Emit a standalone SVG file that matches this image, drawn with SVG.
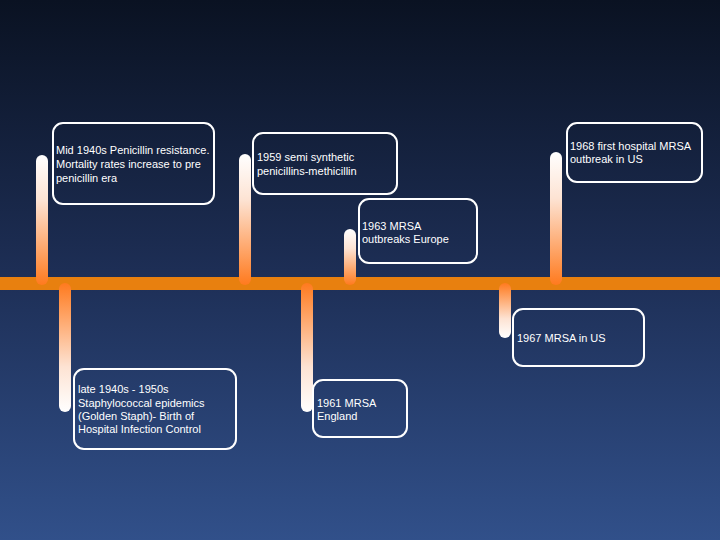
<svg xmlns="http://www.w3.org/2000/svg" width="720" height="540" viewBox="0 0 720 540">
<defs>
<linearGradient id="bg" x1="0" y1="0" x2="0" y2="1">
<stop offset="0" stop-color="#0a1222"/>
<stop offset="0.5" stop-color="#1d2e55"/>
<stop offset="1" stop-color="#31508a"/>
</linearGradient>
<linearGradient id="up" x1="0" y1="0" x2="0" y2="1">
<stop offset="0" stop-color="#ffffff"/>
<stop offset="0.35" stop-color="#fde3d3"/>
<stop offset="1" stop-color="#ff7a1e"/>
</linearGradient>
<linearGradient id="down" x1="0" y1="1" x2="0" y2="0">
<stop offset="0" stop-color="#ffffff"/>
<stop offset="0.35" stop-color="#fde3d3"/>
<stop offset="1" stop-color="#ff7a1e"/>
</linearGradient>
<style>
.box{fill:none;stroke:#ffffff;stroke-width:2}
.t{font-family:"Liberation Sans",Arial,sans-serif;font-size:11px;fill:#ffffff}
.bar{fill:#e8800f}
</style>
</defs>
<rect width="720" height="540" fill="url(#bg)"/>
<rect class="bar" x="0" y="277" width="720" height="13"/>
<g id="connectors">
<rect x="36" y="155" width="12" height="130" rx="6" fill="url(#up)"/>
<rect x="239" y="154" width="12" height="131" rx="6" fill="url(#up)"/>
<rect x="344" y="229" width="12" height="56" rx="6" fill="url(#up)"/>
<rect x="550" y="152" width="12" height="133" rx="6" fill="url(#up)"/>
<rect x="59" y="283" width="12" height="129" rx="6" fill="url(#down)"/>
<rect x="301" y="283" width="12" height="129" rx="6" fill="url(#down)"/>
<rect x="499" y="283" width="12" height="55" rx="6" fill="url(#down)"/>
</g>
<g id="n1940s">
<rect class="box" x="53" y="123" width="161" height="81" rx="10"/>
<text class="t" x="56" y="154">Mid 1940s Penicillin resistance.</text>
<text class="t" x="56" y="168">Mortality rates increase to pre</text>
<text class="t" x="56" y="182">penicillin era</text>
</g>
<g id="n1959">
<rect class="box" x="253" y="133" width="144" height="61" rx="10"/>
<text class="t" x="257" y="161">1959 semi synthetic</text>
<text class="t" x="257" y="175">penicillins-methicillin</text>
</g>
<g id="n1963">
<rect class="box" x="359" y="199" width="118" height="64" rx="10"/>
<text class="t" x="362" y="230">1963 MRSA</text>
<text class="t" x="362" y="243">outbreaks Europe</text>
</g>
<g id="n1968">
<rect class="box" x="567" y="123" width="135" height="59" rx="10"/>
<text class="t" x="570" y="150">1968 first hospital MRSA</text>
<text class="t" x="570" y="163">outbreak in US</text>
</g>
<g id="nlate1940s">
<rect class="box" x="74" y="369" width="162" height="80" rx="10"/>
<text class="t" x="78" y="393">late 1940s - 1950s</text>
<text class="t" x="78" y="407">Staphylococcal epidemics</text>
<text class="t" x="78" y="420">(Golden Staph)- Birth of</text>
<text class="t" x="78" y="433">Hospital Infection Control</text>
</g>
<g id="n1961">
<rect class="box" x="313" y="380" width="94" height="57" rx="10"/>
<text class="t" x="317" y="407">1961 MRSA</text>
<text class="t" x="317" y="420">England</text>
</g>
<g id="n1967">
<rect class="box" x="513" y="309" width="131" height="57" rx="10"/>
<text class="t" x="517" y="342">1967 MRSA in US</text>
</g>
</svg>
